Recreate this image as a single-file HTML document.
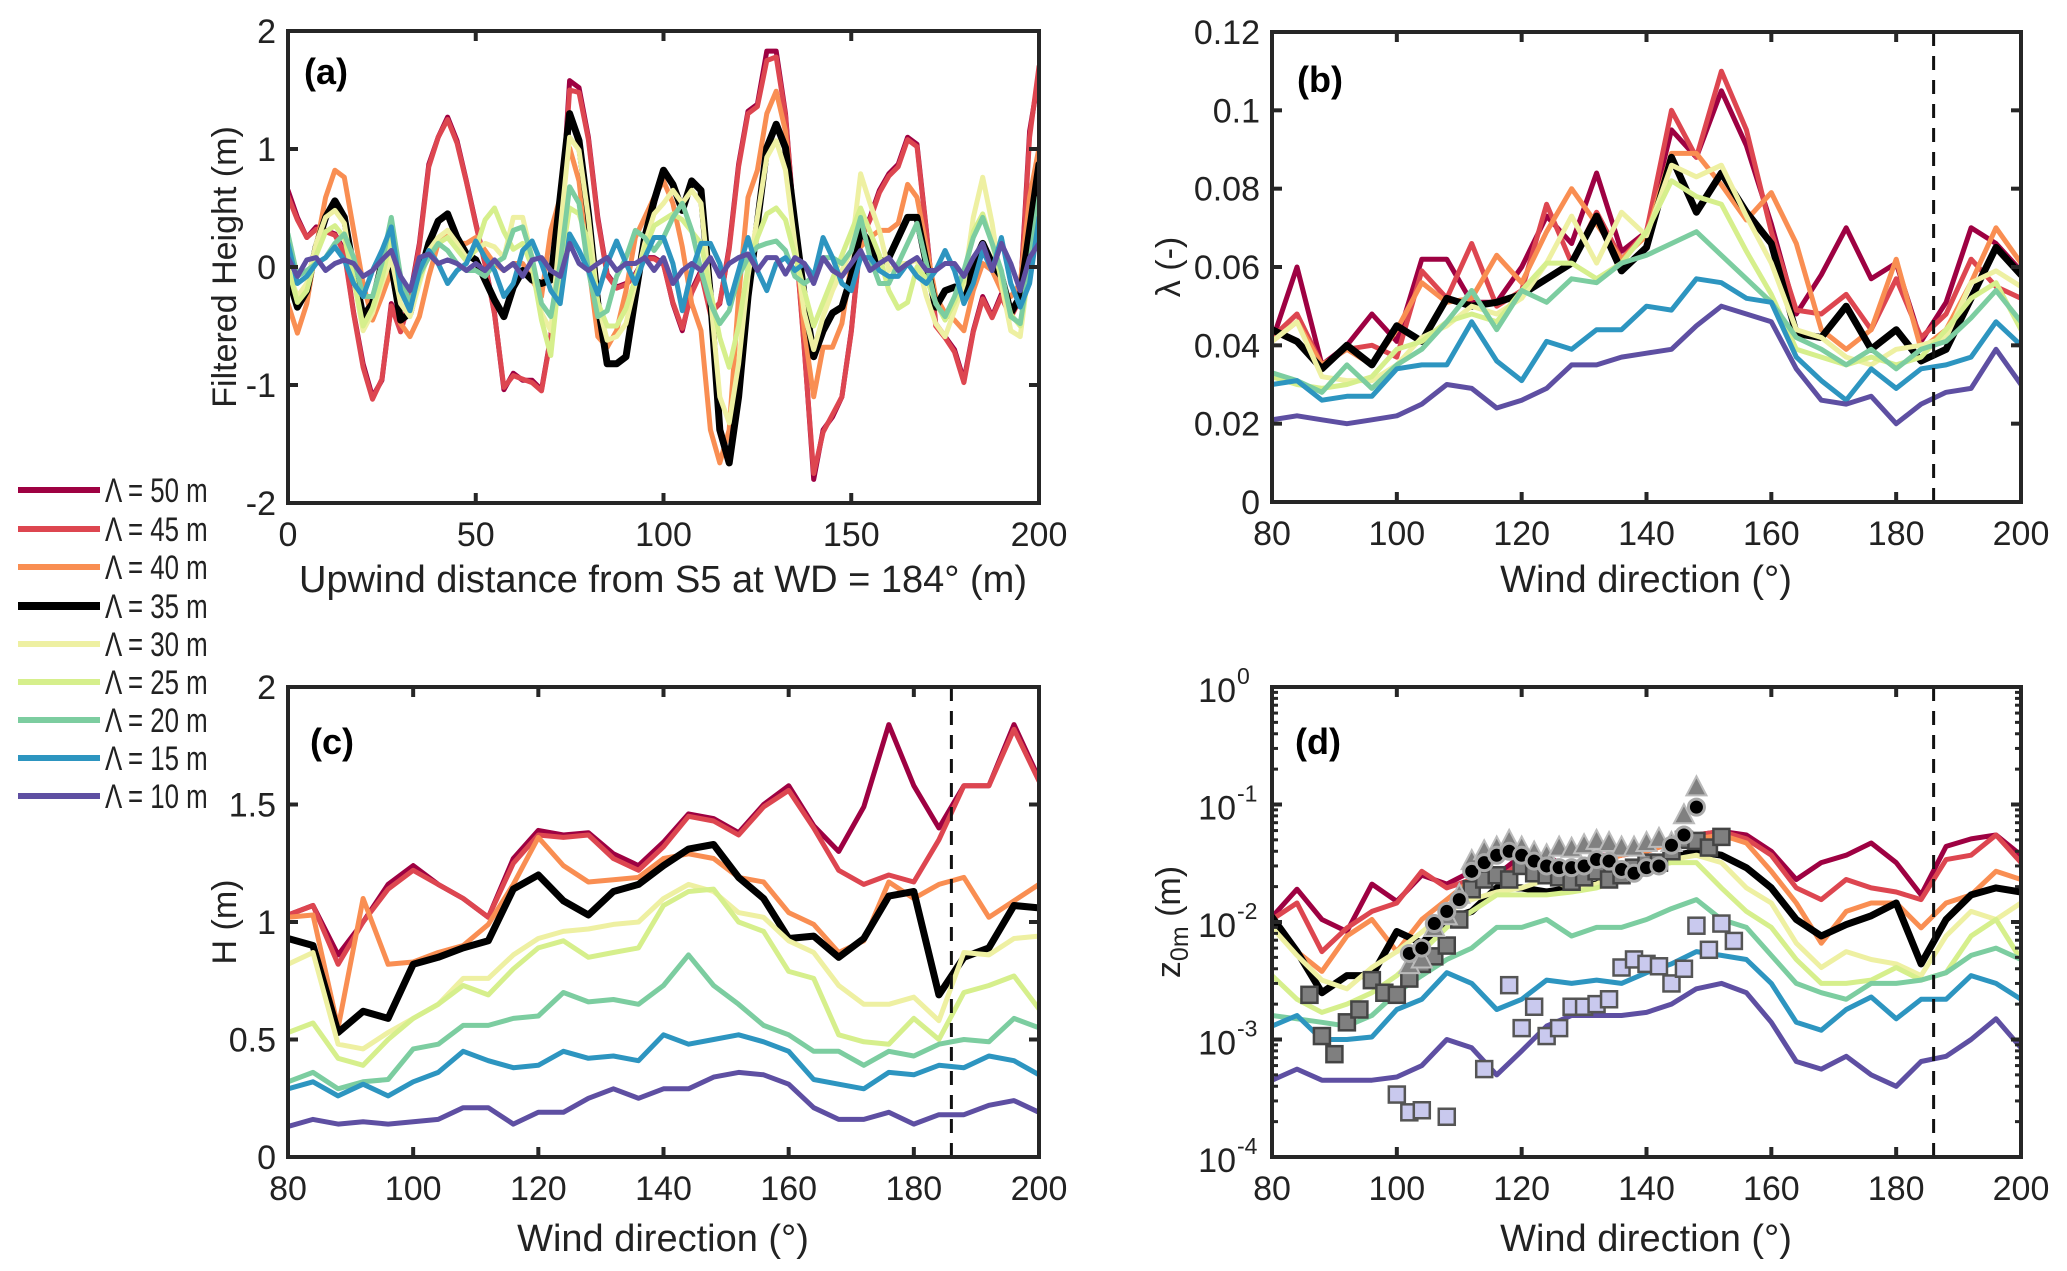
<!DOCTYPE html>
<html><head><meta charset="utf-8"><title>Roughness figure</title>
<style>
html,body{margin:0;padding:0;background:#fff;}
svg{display:block;font-family:"Liberation Sans",Arial,sans-serif;}
</style></head>
<body>
<svg id="fig" width="2067" height="1271" viewBox="0 0 2067 1271" xmlns="http://www.w3.org/2000/svg"></svg>
<script>
// ---------- DATA ----------
const aDist = [0,2.5,5,7.5,10,12.5,15,17.5,20,22.5,25,27.5,30,32.5,35,37.5,40,42.5,45,47.5,50,52.5,55,57.5,60,62.5,65,67.5,70,72.5,75,77.5,80,82.5,85,87.5,90,92.5,95,97.5,100,102.5,105,107.5,110,112.5,115,117.5,120,122.5,125,127.5,130,132.5,135,137.5,140,142.5,145,147.5,150,152.5,155,157.5,160,162.5,165,167.5,170,172.5,175,177.5,180,182.5,185,187.5,190,192.5,195,197.5,200];
const a50 = [0.65,0.42,0.25,0.34,0.31,0.28,0.14,-0.39,-0.82,-1.1,-0.96,-0.31,-0.54,-0.25,0.2,0.87,1.1,1.27,1.07,0.73,0.37,0.03,-0.39,-1.04,-0.9,-0.96,-0.96,-1.04,-0.59,0.31,1.58,1.52,1.1,0.42,-0.06,-0.17,-0.14,-0.06,0.08,0.08,0.03,-0.31,-0.54,-0.2,-0.03,-0.39,-0.31,0.17,0.87,1.32,1.38,1.83,1.83,1.3,0.31,-0.68,-1.8,-1.38,-1.27,-1.1,-0.54,0.25,0.42,0.65,0.79,0.87,1.1,1.04,0.31,-0.48,-0.59,-0.7,-0.96,-0.54,-0.25,-0.42,-0.23,-0.42,-0.25,1.15,1.63];
const a45 = [0.6,0.4,0.25,0.32,0.3,0.27,0.12,-0.4,-0.85,-1.12,-0.95,-0.33,-0.55,-0.27,0.18,0.85,1.1,1.25,1.05,0.72,0.36,0.02,-0.4,-1.02,-0.92,-0.95,-0.98,-1.05,-0.6,0.3,1.5,1.48,1.08,0.4,-0.07,-0.18,-0.15,-0.07,0.07,0.07,0.02,-0.3,-0.52,-0.22,-0.05,-0.4,-0.3,0.15,0.85,1.3,1.36,1.75,1.78,1.28,0.3,-0.7,-1.75,-1.4,-1.25,-1.1,-0.55,0.23,0.4,0.63,0.77,0.85,1.08,1.02,0.3,-0.5,-0.6,-0.72,-0.98,-0.55,-0.27,-0.43,-0.25,-0.43,-0.27,1.1,1.7];
const a40 = [-0.31,-0.56,-0.31,0.17,0.59,0.82,0.76,0.31,-0.14,-0.45,-0.25,-0.03,-0.48,-0.59,-0.42,-0.08,0.2,0.31,0.2,0.2,0.25,0.14,0.03,-0.03,0.03,0.03,-0.11,-0.25,0.31,0.59,1.01,0.73,0.03,-0.59,-0.68,-0.54,-0.2,0.25,0.42,0.59,0.73,0.54,0.17,-0.31,-0.54,-1.38,-1.66,-1.38,-0.25,0.59,0.82,1.3,1.49,1.15,0.31,-0.54,-1.1,-0.68,-0.68,-0.48,0.03,0.17,0.25,0.31,0.31,0.37,0.7,0.59,0.17,-0.25,-0.39,-0.45,-0.54,-0.2,0.03,-0.03,-0.2,-0.25,-0.14,0.59,1.01];
const a35 = [-0.08,-0.34,-0.2,0.17,0.42,0.56,0.42,-0.03,-0.42,-0.31,0.03,0.03,-0.45,-0.39,-0.08,0.2,0.39,0.45,0.25,0.11,0.06,-0.11,-0.28,-0.42,-0.17,-0.03,-0.11,-0.14,-0.11,0.59,1.3,1.07,0.45,-0.31,-0.82,-0.82,-0.76,-0.25,0.25,0.56,0.82,0.7,0.48,0.73,0.65,-0.25,-1.38,-1.66,-1.1,-0.25,0.37,1.01,1.21,1.01,0.37,-0.25,-0.76,-0.54,-0.39,-0.34,-0.08,0.31,0.2,0.03,0.08,0.25,0.42,0.42,0.03,-0.34,-0.2,-0.17,-0.25,0.03,0.2,0.03,-0.08,-0.39,-0.25,0.31,0.87];
const a30 = [-0.03,-0.25,-0.14,0.2,0.42,0.48,0.37,-0.11,-0.54,-0.39,-0.14,0.08,-0.31,-0.42,-0.14,0.14,0.25,0.31,0.2,0.08,0.14,0.2,0.17,0.08,0.42,0.42,0.08,-0.39,-0.54,0.31,1.1,0.99,0.42,-0.31,-0.62,-0.59,-0.48,-0.14,0.2,0.45,0.54,0.65,0.54,0.65,0.54,-0.25,-1.1,-1.32,-0.82,-0.08,0.42,0.93,1.07,0.82,0.2,-0.39,-0.7,-0.42,-0.2,-0.03,0.14,0.79,0.54,0.31,-0.03,0.03,0.03,0.06,-0.25,-0.48,-0.59,-0.37,-0.14,0.42,0.76,0.37,-0.14,-0.54,-0.59,0.03,0.45];
const a25 = [0.0,-0.3,-0.2,0.1,0.3,0.35,0.25,-0.1,-0.5,-0.35,-0.1,0.25,-0.2,-0.35,-0.1,0.1,0.2,0.25,0.15,0.05,0.15,0.4,0.5,0.3,0.15,0.2,0.0,-0.45,-0.75,0.0,0.5,0.45,0.2,-0.3,-0.5,-0.5,-0.35,-0.1,0.15,0.35,0.4,0.45,0.4,0.3,0.2,-0.2,-0.6,-0.85,-0.5,0.0,0.25,0.45,0.5,0.4,0.1,-0.2,-0.5,-0.3,-0.1,0.1,0.3,0.5,0.3,0.1,-0.2,-0.35,-0.3,0.0,-0.1,-0.3,-0.45,-0.3,-0.1,0.3,0.45,0.2,-0.1,-0.4,-0.5,0.0,0.5];
const a20 = [0.28,-0.08,-0.03,0.03,0.08,0.2,0.28,0.08,-0.25,-0.25,0.03,0.42,-0.08,-0.31,-0.06,0.08,0.2,0.14,0.03,-0.03,-0.03,-0.08,0.03,0.08,0.31,0.34,0.08,-0.31,-0.42,0.03,0.68,0.54,-0.03,-0.42,-0.37,-0.08,0.08,0.31,0.25,0.14,0.25,0.42,0.54,0.31,-0.03,-0.31,-0.48,-0.37,-0.08,0.08,0.17,0.2,0.22,0.14,-0.08,-0.14,-0.08,0.08,0.08,0.03,0.14,0.42,0.08,-0.14,-0.14,0.03,0.2,0.37,0.03,-0.31,-0.42,-0.25,-0.03,0.25,0.42,0.2,-0.03,-0.42,-0.48,0.03,0.59];
const a15 = [0.2,-0.14,-0.08,0.03,0.08,0.17,0.06,-0.14,-0.25,-0.03,0.14,0.34,-0.2,-0.37,-0.03,0.14,0.03,-0.14,-0.03,0.03,0.22,0.08,-0.03,-0.25,-0.14,0.14,0.22,0.03,-0.2,-0.31,0.28,0.14,-0.03,-0.23,0.03,0.22,0.03,-0.14,0.08,0.25,0.25,0.03,-0.37,-0.03,0.2,0.2,0.03,-0.31,-0.03,0.25,-0.03,-0.2,0.03,0.08,-0.03,0.03,-0.08,0.25,0.08,-0.14,-0.2,0.08,0.08,-0.03,-0.08,-0.08,0.03,-0.08,-0.14,-0.03,0.14,-0.03,-0.31,-0.14,0.14,-0.03,0.25,-0.14,-0.34,-0.14,0.42];
const a10 = [0.08,-0.08,0.06,0.08,-0.03,0.03,0.06,0.03,-0.08,-0.03,0.06,0.14,-0.08,-0.2,0.08,0.11,0.03,0.06,0.03,-0.03,0.03,-0.03,0.06,-0.03,0.03,-0.08,0.06,0.08,-0.03,-0.08,0.2,0.03,-0.03,0.03,0.08,-0.03,0.03,0.03,0.08,-0.03,0.08,-0.14,-0.03,0.03,-0.03,0.08,-0.08,0.03,0.08,0.11,-0.03,0.08,0.08,-0.06,0.08,0.03,-0.14,0.08,-0.03,-0.08,0.03,0.14,-0.03,0.03,0.08,-0.03,0.03,0.08,-0.03,-0.03,0.03,0.03,-0.08,0.08,0.2,-0.03,0.2,0.03,-0.2,0.08,0.2];

const windDir = [80,84,88,92,96,100,104,108,112,116,120,124,128,132,136,140,144,148,152,156,160,164,168,172,176,180,184,188,192,196,200];
const b50 = [0.041,0.06,0.035,0.04,0.048,0.041,0.062,0.062,0.051,0.051,0.06,0.073,0.066,0.084,0.064,0.069,0.095,0.088,0.105,0.091,0.071,0.048,0.058,0.07,0.057,0.061,0.041,0.051,0.07,0.066,0.059];
const b45 = [0.042,0.048,0.035,0.039,0.04,0.037,0.059,0.052,0.066,0.05,0.054,0.076,0.061,0.074,0.062,0.069,0.1,0.088,0.11,0.095,0.069,0.049,0.048,0.053,0.044,0.057,0.042,0.048,0.062,0.055,0.052];
const b40 = [0.041,0.046,0.035,0.039,0.035,0.044,0.056,0.051,0.052,0.063,0.056,0.069,0.08,0.071,0.062,0.068,0.089,0.089,0.081,0.072,0.079,0.066,0.044,0.039,0.044,0.062,0.039,0.044,0.056,0.07,0.061];
const b35 = [0.044,0.041,0.034,0.04,0.035,0.045,0.041,0.052,0.05,0.051,0.053,0.057,0.061,0.073,0.059,0.065,0.088,0.074,0.084,0.074,0.066,0.043,0.042,0.05,0.039,0.044,0.036,0.039,0.052,0.065,0.058];
const b30 = [0.041,0.046,0.032,0.031,0.031,0.035,0.042,0.045,0.05,0.048,0.052,0.061,0.073,0.061,0.074,0.068,0.086,0.083,0.086,0.073,0.061,0.044,0.042,0.037,0.035,0.039,0.04,0.042,0.056,0.059,0.055];
const b25 = [0.032,0.03,0.029,0.03,0.032,0.039,0.041,0.046,0.048,0.046,0.054,0.061,0.061,0.057,0.061,0.069,0.082,0.078,0.076,0.064,0.053,0.039,0.037,0.035,0.037,0.035,0.037,0.044,0.052,0.056,0.044];
const b20 = [0.033,0.031,0.028,0.035,0.029,0.035,0.039,0.046,0.054,0.044,0.054,0.051,0.057,0.056,0.061,0.063,0.066,0.069,0.063,0.057,0.051,0.042,0.039,0.035,0.039,0.034,0.039,0.041,0.047,0.054,0.046];
const b15 = [0.03,0.031,0.026,0.027,0.027,0.034,0.035,0.035,0.046,0.036,0.031,0.041,0.039,0.044,0.044,0.05,0.049,0.057,0.056,0.052,0.051,0.037,0.031,0.026,0.034,0.029,0.034,0.035,0.037,0.046,0.04];
const b10 = [0.021,0.022,0.021,0.02,0.021,0.022,0.025,0.03,0.029,0.024,0.026,0.029,0.035,0.035,0.037,0.038,0.039,0.045,0.05,0.048,0.046,0.034,0.026,0.025,0.027,0.02,0.025,0.028,0.029,0.039,0.03];

const c50 = [1.03,1.07,0.86,1.0,1.16,1.24,1.16,1.10,1.02,1.27,1.39,1.37,1.38,1.29,1.24,1.34,1.46,1.44,1.38,1.50,1.58,1.41,1.30,1.49,1.84,1.58,1.40,1.58,1.58,1.84,1.61];
const c45 = [1.03,1.07,0.82,1.0,1.14,1.22,1.16,1.10,1.02,1.25,1.37,1.36,1.37,1.27,1.22,1.32,1.45,1.43,1.37,1.49,1.56,1.40,1.22,1.16,1.20,1.17,1.35,1.58,1.58,1.82,1.60];
const c40 = [1.02,1.03,0.55,1.1,0.82,0.83,0.87,0.9,0.99,1.16,1.36,1.24,1.17,1.18,1.19,1.27,1.29,1.27,1.19,1.17,1.04,0.99,0.87,0.92,1.17,1.1,1.16,1.19,1.02,1.09,1.16];
const c35 = [0.93,0.9,0.53,0.62,0.59,0.82,0.85,0.89,0.92,1.14,1.2,1.09,1.03,1.13,1.16,1.24,1.31,1.33,1.19,1.1,0.93,0.94,0.85,0.93,1.11,1.13,0.69,0.85,0.89,1.07,1.06];
const c30 = [0.82,0.87,0.48,0.46,0.53,0.59,0.65,0.76,0.76,0.86,0.93,0.96,0.97,0.99,1.0,1.1,1.16,1.13,1.04,1.02,0.92,0.87,0.73,0.65,0.65,0.68,0.58,0.87,0.86,0.93,0.94];
const c25 = [0.53,0.57,0.42,0.39,0.5,0.59,0.65,0.73,0.69,0.8,0.89,0.92,0.85,0.87,0.89,1.07,1.13,1.14,1.0,0.96,0.79,0.76,0.52,0.49,0.48,0.59,0.5,0.7,0.73,0.77,0.63];
const c20 = [0.32,0.36,0.29,0.32,0.33,0.46,0.48,0.56,0.56,0.59,0.6,0.7,0.66,0.67,0.65,0.73,0.86,0.73,0.65,0.56,0.52,0.45,0.45,0.39,0.45,0.43,0.48,0.5,0.49,0.59,0.55];
const c15 = [0.29,0.32,0.26,0.31,0.26,0.32,0.36,0.45,0.41,0.38,0.39,0.45,0.42,0.43,0.41,0.52,0.48,0.5,0.52,0.49,0.45,0.33,0.31,0.29,0.36,0.35,0.39,0.38,0.43,0.41,0.35];
const c10 = [0.13,0.16,0.14,0.15,0.14,0.15,0.16,0.21,0.21,0.14,0.19,0.19,0.25,0.29,0.25,0.29,0.29,0.34,0.36,0.35,0.31,0.21,0.16,0.16,0.19,0.14,0.18,0.18,0.22,0.24,0.19];

const d50 = [0.011,0.019,0.0105,0.0083,0.021,0.015,0.025,0.021,0.027,0.025,0.037,0.037,0.027,0.037,0.037,0.04,0.047,0.055,0.059,0.055,0.04,0.023,0.032,0.037,0.047,0.032,0.017,0.044,0.051,0.055,0.037];
const d45 = [0.0105,0.0145,0.0056,0.0089,0.0123,0.0145,0.027,0.0195,0.023,0.023,0.032,0.032,0.027,0.034,0.037,0.044,0.047,0.055,0.059,0.051,0.037,0.0195,0.0155,0.023,0.0195,0.018,0.0155,0.034,0.037,0.055,0.032];
const d40 = [0.0105,0.0056,0.0038,0.0076,0.0105,0.0056,0.0105,0.0155,0.023,0.025,0.027,0.032,0.027,0.032,0.037,0.04,0.047,0.051,0.055,0.047,0.027,0.0145,0.0066,0.0123,0.0145,0.0145,0.0089,0.0145,0.017,0.027,0.023];
const d35 = [0.011,0.0056,0.0025,0.0035,0.0035,0.0083,0.0066,0.0105,0.0123,0.0195,0.0195,0.018,0.0195,0.021,0.023,0.027,0.036,0.04,0.037,0.029,0.0195,0.0105,0.0076,0.0095,0.0113,0.0145,0.0044,0.0105,0.017,0.0195,0.018];
const d30 = [0.009,0.0052,0.0032,0.0027,0.0041,0.0056,0.0082,0.0123,0.0155,0.018,0.0195,0.023,0.0195,0.021,0.027,0.032,0.034,0.037,0.032,0.0195,0.0145,0.0066,0.0041,0.0056,0.0048,0.0044,0.0035,0.0076,0.0123,0.0105,0.0145];
const d25 = [0.0035,0.0022,0.0017,0.002,0.0025,0.0035,0.0056,0.009,0.0123,0.017,0.017,0.017,0.018,0.0195,0.023,0.029,0.032,0.032,0.0195,0.0123,0.009,0.0048,0.003,0.003,0.0032,0.0041,0.0032,0.0037,0.0076,0.0105,0.0048];
const d20 = [0.0016,0.0015,0.0014,0.0013,0.0016,0.0025,0.0035,0.0048,0.006,0.009,0.009,0.0105,0.0076,0.009,0.009,0.0105,0.013,0.0155,0.0105,0.009,0.0052,0.003,0.0025,0.0022,0.003,0.003,0.0032,0.0037,0.0052,0.006,0.0048];
const d15 = [0.0013,0.0016,0.001,0.001,0.00105,0.0018,0.0022,0.0037,0.003,0.0018,0.0022,0.0032,0.003,0.0032,0.003,0.0037,0.0044,0.0056,0.0052,0.0048,0.003,0.0014,0.0012,0.0018,0.0023,0.0015,0.0022,0.0022,0.0035,0.003,0.0022];
const d10 = [0.00045,0.00056,0.00045,0.00045,0.00045,0.00048,0.0006,0.001,0.00085,0.0005,0.0008,0.0013,0.0016,0.0016,0.0016,0.0017,0.002,0.0027,0.003,0.0025,0.0014,0.00065,0.00056,0.00072,0.0005,0.0004,0.00065,0.00072,0.001,0.0015,0.00085];

const lightSqX = [100,102,104,108,114,118,120,122,124,126,128,130,132,134,136,138,140,142,144,146,148,150,152,154];
const lightSqY = [0.00034,0.00024,0.00025,0.00022,0.00056,0.0029,0.00125,0.0019,0.00107,0.00125,0.0019,0.0019,0.002,0.0022,0.0041,0.0048,0.0044,0.0042,0.003,0.004,0.0093,0.0058,0.0097,0.0069];
const darkSqX = [86,88,90,92,94,96,98,100,102,104,106,108,110,112,114,116,118,120,122,124,126,128,130,132,134,136,138,140,142,144,146,148,150,152];
const darkSqY = [0.0024,0.00107,0.00075,0.0014,0.0018,0.0032,0.0025,0.0024,0.0033,0.0044,0.0051,0.0063,0.0105,0.019,0.023,0.025,0.023,0.03,0.026,0.025,0.024,0.022,0.024,0.027,0.023,0.025,0.029,0.032,0.032,0.04,0.05,0.049,0.043,0.053];
const triX = [102,104,106,108,110,112,114,116,118,120,122,124,126,128,130,132,134,136,138,140,142,144,146,148];
const triY = [0.0043,0.0048,0.0089,0.0112,0.017,0.033,0.04,0.043,0.049,0.043,0.039,0.037,0.043,0.042,0.045,0.049,0.047,0.043,0.043,0.047,0.051,0.047,0.081,0.14];
const circX = [102,104,106,108,110,112,114,116,118,120,122,124,126,128,130,132,134,136,138,140,142,144,146,148];
const circY = [0.0054,0.006,0.0097,0.0123,0.0155,0.027,0.032,0.037,0.04,0.037,0.033,0.03,0.029,0.029,0.03,0.034,0.033,0.028,0.026,0.029,0.03,0.045,0.055,0.095];

const lambdaLabels = ["50","45","40","35","30","25","20","15","10"];
const seriesColors = ["#9e0142","#dd4650","#f98e52","#000000","#eef0a2","#d6ef8c","#7ccda0","#2d95c0","#5e4fa2"];
const dashedWD = 186;

const aTicksX = [0,50,100,150,200];
const aTicksY = [-2,-1,0,1,2];
const wdTicks = [80,100,120,140,160,180,200];
const bTicksY = [0,0.02,0.04,0.06,0.08,0.1,0.12];
const bTickLabels = ["0","0.02","0.04","0.06","0.08","0.1","0.12"];
const cTicksY = [0,0.5,1,1.5,2];
const cTickLabels = ["0","0.5","1","1.5","2"];
const dExp = [-4,-3,-2,-1,0];

// ---------- DRAWING ----------
const NS = "http://www.w3.org/2000/svg";
const svg = document.getElementById("fig");
const TICK_FS = 34, XTITLE_FS = 38, YTITLE_FS = 34;
function el(tag, attrs, parent){
  const e = document.createElementNS(NS, tag);
  for (const k in attrs) e.setAttribute(k, attrs[k]);
  (parent || svg).appendChild(e);
  return e;
}
function linScale(d0,d1,r0,r1){ return v => r0 + (v-d0)/(d1-d0)*(r1-r0); }
function logScale(d0,d1,r0,r1){ return v => r0 + (Math.log10(v)-Math.log10(d0))/(Math.log10(d1)-Math.log10(d0))*(r1-r0); }

const panels = {
  a:{x0:288,x1:1039,y0:31,y1:503},
  b:{x0:1272,x1:2021,y0:32,y1:502},
  c:{x0:288,x1:1039,y0:687,y1:1157},
  d:{x0:1272,x1:2021,y0:687,y1:1157}
};
const A = panels.a, B = panels.b, C = panels.c, D = panels.d;
const ax = linScale(0,200,A.x0,A.x1), ay = linScale(-2,2,A.y1,A.y0);
const bx = linScale(80,200,B.x0,B.x1), by = linScale(0,0.12,B.y1,B.y0);
const cx = linScale(80,200,C.x0,C.x1), cy = linScale(0,2,C.y1,C.y0);
const dx = linScale(80,200,D.x0,D.x1), dy = logScale(1e-4,1,D.y1,D.y0);

function clip(id,P){
  const defs = el("defs",{});
  const cp = el("clipPath",{id:id},defs);
  el("rect",{x:P.x0,y:P.y0,width:P.x1-P.x0,height:P.y1-P.y0},cp);
}
clip("clipA",A); clip("clipB",B); clip("clipC",C); clip("clipD",D);

function drawLine(g, xs, ys, fx, fy, color, w, name){
  let d = "";
  for (let i=0;i<xs.length;i++){ d += (i?"L":"M") + fx(xs[i]).toFixed(1) + "," + fy(ys[i]).toFixed(1); }
  const p = el("path",{d:d,fill:"none",stroke:color,"stroke-width":w,"stroke-linejoin":"round","stroke-linecap":"round"},g);
  
  
  return p;
}

function axesBox(P, name){
  const r = el("rect",{x:P.x0,y:P.y0,width:P.x1-P.x0,height:P.y1-P.y0,fill:"none",stroke:"#262626","stroke-width":4});
  
  
}
function xTicks(P, vals, fx, labels, name){
  const g = el("g",{});
  
  
  vals.forEach((v,i)=>{
    const x = fx(v);
    el("line",{x1:x,x2:x,y1:P.y1,y2:P.y1-10,stroke:"#262626","stroke-width":4},g);
    el("line",{x1:x,x2:x,y1:P.y0,y2:P.y0+10,stroke:"#262626","stroke-width":4},g);
    const t = el("text",{x:x,y:P.y1+43,"text-anchor":"middle","font-size":TICK_FS,fill:"#222"},g);
    t.textContent = labels[i];
    
    
  });
}
function yTicks(P, vals, fy, labels, name){
  const g = el("g",{});
  
  
  vals.forEach((v,i)=>{
    const y = fy(v);
    el("line",{x1:P.x0,x2:P.x0+10,y1:y,y2:y,stroke:"#262626","stroke-width":4},g);
    el("line",{x1:P.x1,x2:P.x1-10,y1:y,y2:y,stroke:"#262626","stroke-width":4},g);
    const t = el("text",{x:P.x0-12,y:y+12,"text-anchor":"end","font-size":TICK_FS,fill:"#222"},g);
    t.textContent = labels[i];
    
    
  });
}
function text(x,y,str,size,name,extra){
  const t = el("text",Object.assign({x:x,y:y,"font-size":size,fill:"#222","text-anchor":"middle"},extra||{}));
  t.textContent = str;
  
  
  return t;
}
function dashed(P, fx, name){
  const l = el("line",{x1:fx(dashedWD),x2:fx(dashedWD),y1:P.y0,y2:P.y1,stroke:"#111","stroke-width":3,"stroke-dasharray":"14,10"});
  
  
}
function panelLabel(x,y,str,name){
  text(x,y,str,36,name,{"font-weight":"bold","text-anchor":"start",fill:"#000"});
}
const LW = 5, LWB = 7;

// Panel A
const aSeries = [a50,a45,a40,a35,a30,a25,a20,a15,a10];
const gA = el("g",{"clip-path":"url(#clipA)"});


aSeries.forEach((s,i)=> drawLine(gA, aDist, s, ax, ay, seriesColors[i], i===3?LWB:LW, "line-a-lambda-"+lambdaLabels[i]));
axesBox(A, "panel-a-axes");
xTicks(A, aTicksX, ax, aTicksX.map(String), "panel-a-x-ticks");
yTicks(A, aTicksY, ay, aTicksY.map(String), "panel-a-y-ticks");
text(663, 592, "Upwind distance from S5 at WD = 184° (m)", XTITLE_FS, "panel-a-x-axis-title");
text(0,0,"Filtered Height (m)",YTITLE_FS,"panel-a-y-axis-title",{transform:"translate(236,267) rotate(-90)"});
panelLabel(304, 84, "(a)", "panel-a-label");

// Panel B
const bSeries = [b50,b45,b40,b35,b30,b25,b20,b15,b10];
const gB = el("g",{"clip-path":"url(#clipB)"});


bSeries.forEach((s,i)=> drawLine(gB, windDir, s, bx, by, seriesColors[i], i===3?LWB:LW, "line-b-lambda-"+lambdaLabels[i]));
dashed(B, bx, "panel-b-dashed-line");
axesBox(B, "panel-b-axes");
xTicks(B, wdTicks, bx, wdTicks.map(String), "panel-b-x-ticks");
yTicks(B, bTicksY, by, bTickLabels, "panel-b-y-ticks");
text(1646, 592, "Wind direction (°)", XTITLE_FS, "panel-b-x-axis-title");
text(0,0,"λ (-)",YTITLE_FS,"panel-b-y-axis-title",{transform:"translate(1180,267) rotate(-90)"});
panelLabel(1297, 92, "(b)", "panel-b-label");

// Panel C
const cSeries = [c50,c45,c40,c35,c30,c25,c20,c15,c10];
const gC = el("g",{"clip-path":"url(#clipC)"});


cSeries.forEach((s,i)=> drawLine(gC, windDir, s, cx, cy, seriesColors[i], i===3?LWB:LW, "line-c-lambda-"+lambdaLabels[i]));
dashed(C, cx, "panel-c-dashed-line");
axesBox(C, "panel-c-axes");
xTicks(C, wdTicks, cx, wdTicks.map(String), "panel-c-x-ticks");
yTicks(C, cTicksY, cy, cTickLabels, "panel-c-y-ticks");
text(663, 1251, "Wind direction (°)", XTITLE_FS, "panel-c-x-axis-title");
text(0,0,"H (m)",YTITLE_FS,"panel-c-y-axis-title",{transform:"translate(236,922) rotate(-90)"});
panelLabel(310, 754, "(c)", "panel-c-label");

// Panel D
const dSeries = [d50,d45,d40,d35,d30,d25,d20,d15,d10];
const gD = el("g",{"clip-path":"url(#clipD)"});


dSeries.forEach((s,i)=> drawLine(gD, windDir, s, dx, dy, seriesColors[i], i===3?LWB:LW, "line-d-lambda-"+lambdaLabels[i]));
const gM = el("g",{"clip-path":"url(#clipD)"});


lightSqX.forEach((v,i)=>{
  const r = el("rect",{x:dx(v)-8,y:dy(lightSqY[i])-8,width:16,height:16,fill:"#c9c9ee",stroke:"#555","stroke-width":2.5},gM);
  
  
});
darkSqX.forEach((v,i)=>{
  const r = el("rect",{x:dx(v)-8,y:dy(darkSqY[i])-8,width:16,height:16,fill:"#7f7f7f",stroke:"#444","stroke-width":2.5},gM);
  
  
});
triX.forEach((v,i)=>{
  const x = dx(v), y = dy(triY[i]);
  const p = el("polygon",{points:`${x},${y-11} ${x-10},${y+8} ${x+10},${y+8}`,fill:"#808080",stroke:"#bbb","stroke-width":2},gM);
  
  
});
circX.forEach((v,i)=>{
  const c = el("circle",{cx:dx(v),cy:dy(circY[i]),r:8,fill:"#000",stroke:"#aaa","stroke-width":3},gM);
  
  
});
dashed(D, dx, "panel-d-dashed-line");
axesBox(D, "panel-d-axes");
xTicks(D, wdTicks, dx, wdTicks.map(String), "panel-d-x-ticks");
const gDy = el("g",{});


dExp.forEach(e=>{
  const y = dy(Math.pow(10,e));
  el("line",{x1:D.x0,x2:D.x0+10,y1:y,y2:y,stroke:"#262626","stroke-width":4},gDy);
  el("line",{x1:D.x1,x2:D.x1-10,y1:y,y2:y,stroke:"#262626","stroke-width":4},gDy);
  const t = el("text",{x:D.x0-36,y:y+15,"text-anchor":"end","font-size":TICK_FS,fill:"#222"},gDy);
  t.textContent = "10";
  
  
  const s = el("text",{x:D.x0-35,y:y-3,"text-anchor":"start","font-size":23,fill:"#222"},gDy);
  s.textContent = String(e);
  
  
  if (e < 0){
    for (let m=2;m<=9;m++){
      const ym = dy(m*Math.pow(10,e));
      el("line",{x1:D.x0,x2:D.x0+6,y1:ym,y2:ym,stroke:"#262626","stroke-width":3},gDy);
      el("line",{x1:D.x1,x2:D.x1-6,y1:ym,y2:ym,stroke:"#262626","stroke-width":3},gDy);
    }
  }
});
text(1646, 1251, "Wind direction (°)", XTITLE_FS, "panel-d-x-axis-title");
const zt = el("text",{transform:"translate(1180,922) rotate(-90)","text-anchor":"middle","font-size":YTITLE_FS,fill:"#222"});


const z1 = el("tspan",{},zt); z1.textContent = "z";
const z2 = el("tspan",{"font-size":25,dy:8},zt); z2.textContent = "0m";
const z3 = el("tspan",{dy:-8},zt); z3.textContent = " (m)";
panelLabel(1295, 754, "(d)", "panel-d-label");

// Legend
const legendY = [490,529,567,606,644,682,720,758,796];
const gL = el("g",{});


lambdaLabels.forEach((lab,i)=>{
  const g = el("g",{},gL);
  
  
  el("line",{x1:18,x2:100,y1:legendY[i],y2:legendY[i],stroke:seriesColors[i],"stroke-width":i===3?8:6},g);
  const t = el("text",{x:0,y:0,"font-size":34,fill:"#222",transform:`translate(105,${legendY[i]+12}) scale(0.76,1)`},g);
  t.textContent = "Λ = " + lab + " m";
});
</script>
</body></html>
